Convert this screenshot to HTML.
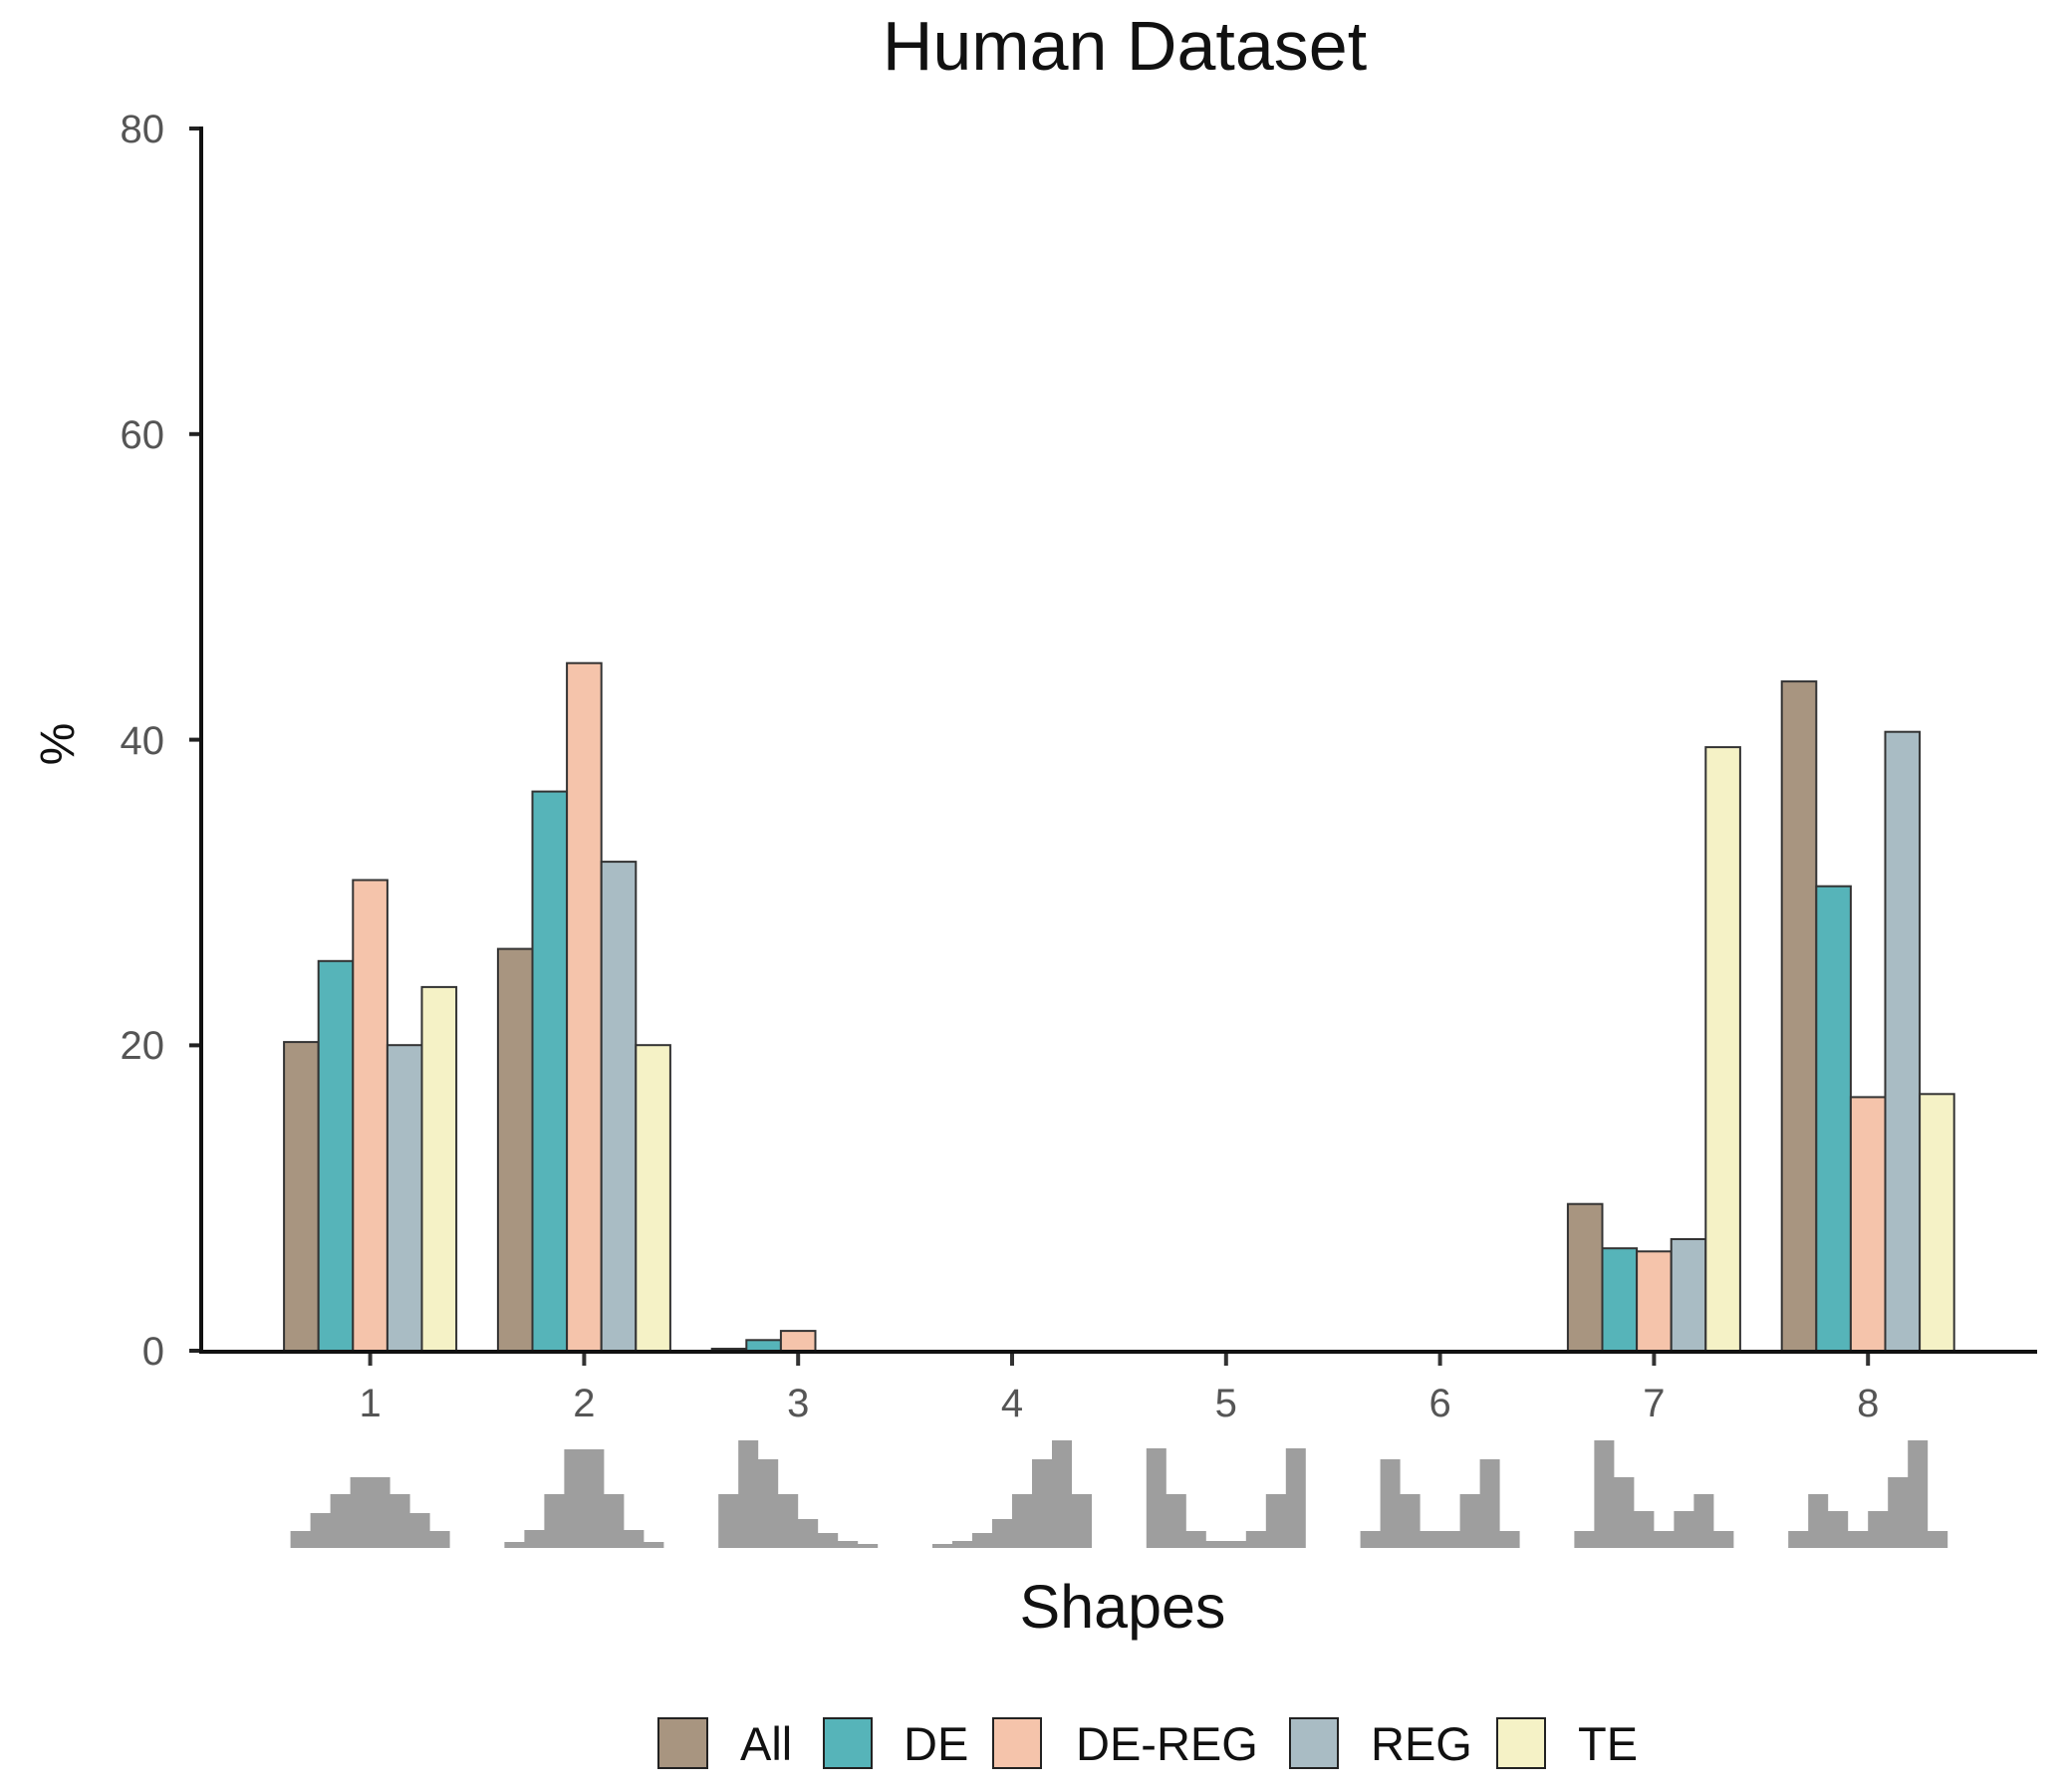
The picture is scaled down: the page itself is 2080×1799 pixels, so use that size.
<!DOCTYPE html>
<html><head><meta charset="utf-8"><style>
html,body{margin:0;padding:0;background:#fff;}
svg{display:block;}
text{font-family:"Liberation Sans",Arial,sans-serif;}
</style></head><body>
<svg width="2080" height="1799" viewBox="0 0 2080 1799" xmlns="http://www.w3.org/2000/svg">
<rect width="2080" height="1799" fill="#fff"/>
<text x="1129" y="70" font-size="70" text-anchor="middle" fill="#111">Human Dataset</text>
<g font-size="40" fill="#555" text-anchor="end">
<text x="165" y="143">80</text>
<text x="165" y="450">60</text>
<text x="165" y="757">40</text>
<text x="165" y="1063">20</text>
<text x="165" y="1370">0</text>
</g>
<g stroke="#222" stroke-width="4">
<line x1="190" y1="129" x2="202" y2="129"/>
<line x1="190" y1="435.8" x2="202" y2="435.8"/>
<line x1="190" y1="742.6" x2="202" y2="742.6"/>
<line x1="190" y1="1049.4" x2="202" y2="1049.4"/>
<line x1="190" y1="1356" x2="202" y2="1356"/>
</g>
<text transform="translate(74,747) rotate(-90)" font-size="48" text-anchor="middle" fill="#111">%</text>

<g stroke="#333" stroke-width="2">
<g transform="translate(285.1,0)">
<rect x="0" y="1046.1" width="34.6" height="309.9" fill="#A89580"/>
<rect x="34.6" y="964.8" width="34.6" height="391.2" fill="#56B4B9"/>
<rect x="69.2" y="883.5" width="34.6" height="472.5" fill="#F5C4AB"/>
<rect x="103.8" y="1049.2" width="34.6" height="306.8" fill="#A9BCC4"/>
<rect x="138.4" y="990.9" width="34.6" height="365.1" fill="#F5F2C6"/>
</g>
<g transform="translate(499.9,0)">
<rect x="0" y="952.6" width="34.6" height="403.4" fill="#A89580"/>
<rect x="34.6" y="794.6" width="34.6" height="561.4" fill="#56B4B9"/>
<rect x="69.2" y="665.7" width="34.6" height="690.3" fill="#F5C4AB"/>
<rect x="103.8" y="865.1" width="34.6" height="490.9" fill="#A9BCC4"/>
<rect x="138.4" y="1049.2" width="34.6" height="306.8" fill="#F5F2C6"/>
</g>
<g transform="translate(714.7,0)">
<rect x="0" y="1354" width="34.6" height="2" fill="#A89580"/>
<rect x="34.6" y="1345.3" width="34.6" height="10.7" fill="#56B4B9"/>
<rect x="69.2" y="1336.1" width="34.6" height="19.9" fill="#F5C4AB"/>
</g>
<g transform="translate(1573.9,0)">
<rect x="0" y="1208.7" width="34.6" height="147.3" fill="#A89580"/>
<rect x="34.6" y="1253.2" width="34.6" height="102.8" fill="#56B4B9"/>
<rect x="69.2" y="1256.3" width="34.6" height="99.7" fill="#F5C4AB"/>
<rect x="103.8" y="1244" width="34.6" height="112" fill="#A9BCC4"/>
<rect x="138.4" y="750.1" width="34.6" height="605.9" fill="#F5F2C6"/>
</g>
<g transform="translate(1788.7,0)">
<rect x="0" y="684.1" width="34.6" height="671.9" fill="#A89580"/>
<rect x="34.6" y="889.7" width="34.6" height="466.3" fill="#56B4B9"/>
<rect x="69.2" y="1101.4" width="34.6" height="254.6" fill="#F5C4AB"/>
<rect x="103.8" y="734.7" width="34.6" height="621.3" fill="#A9BCC4"/>
<rect x="138.4" y="1098.3" width="34.6" height="257.7" fill="#F5F2C6"/>
</g>
</g>

<line x1="202" y1="127" x2="202" y2="1359" stroke="#111" stroke-width="4"/>
<line x1="200" y1="1357" x2="2045" y2="1357" stroke="#111" stroke-width="4"/>

<g stroke="#333" stroke-width="4">
<line x1="371.6" y1="1359" x2="371.6" y2="1371"/>
<line x1="586.4" y1="1359" x2="586.4" y2="1371"/>
<line x1="801.2" y1="1359" x2="801.2" y2="1371"/>
<line x1="1016" y1="1359" x2="1016" y2="1371"/>
<line x1="1230.8" y1="1359" x2="1230.8" y2="1371"/>
<line x1="1445.6" y1="1359" x2="1445.6" y2="1371"/>
<line x1="1660.4" y1="1359" x2="1660.4" y2="1371"/>
<line x1="1875.2" y1="1359" x2="1875.2" y2="1371"/>
</g>
<g font-size="40" fill="#555" text-anchor="middle">
<text x="371.6" y="1422">1</text>
<text x="586.4" y="1422">2</text>
<text x="801.2" y="1422">3</text>
<text x="1016" y="1422">4</text>
<text x="1230.8" y="1422">5</text>
<text x="1445.6" y="1422">6</text>
<text x="1660.4" y="1422">7</text>
<text x="1875.2" y="1422">8</text>
</g>

<g fill="#9E9E9E">
<path transform="translate(291.6,1554)" d="M0 0V-17H20V-35H40V-54H60V-71H100V-54H120V-35H140V-17H160V0Z"/>
<path transform="translate(506.4,1554)" d="M0 0V-6H20V-18H40V-54H60V-99H100V-54H120V-18H140V-6H160V0Z"/>
<path transform="translate(721.2,1554)" d="M0 0V-54H20V-108H40V-89H60V-54H80V-29H100V-15H120V-7H140V-4H160V0Z"/>
<path transform="translate(936,1554)" d="M0 0V-4H20V-7H40V-15H60V-29H80V-54H100V-89H120V-108H140V-54H160V0Z"/>
<path transform="translate(1150.8,1554)" d="M0 0V-100H20V-54H40V-17H60V-7H100V-17H120V-54H140V-100H160V0Z"/>
<path transform="translate(1365.6,1554)" d="M0 0V-17H20V-89H40V-54H60V-17H100V-54H120V-89H140V-17H160V0Z"/>
<path transform="translate(1580.4,1554)" d="M0 0V-17H20V-108H40V-71H60V-37H80V-17H100V-37H120V-54H140V-17H160V0Z"/>
<path transform="translate(1795.2,1554)" d="M0 0V-17H20V-54H40V-37H60V-17H80V-37H100V-71H120V-108H140V-17H160V0Z"/>
</g>

<text x="1127" y="1634" font-size="61" text-anchor="middle" fill="#111">Shapes</text>
<g stroke="#222" stroke-width="2">
<rect x="661" y="1725" width="49" height="50" fill="#A89580"/>
<rect x="827" y="1725" width="48" height="50" fill="#56B4B9"/>
<rect x="997" y="1725" width="48" height="50" fill="#F5C4AB"/>
<rect x="1295" y="1725" width="48" height="50" fill="#A9BCC4"/>
<rect x="1503" y="1725" width="48" height="50" fill="#F5F2C6"/>
</g>
<g font-size="47" fill="#111">
<text x="743" y="1767">All</text>
<text x="907" y="1767">DE</text>
<text x="1080" y="1767">DE-REG</text>
<text x="1376" y="1767">REG</text>
<text x="1584" y="1767">TE</text>
</g>
</svg>
</body></html>
